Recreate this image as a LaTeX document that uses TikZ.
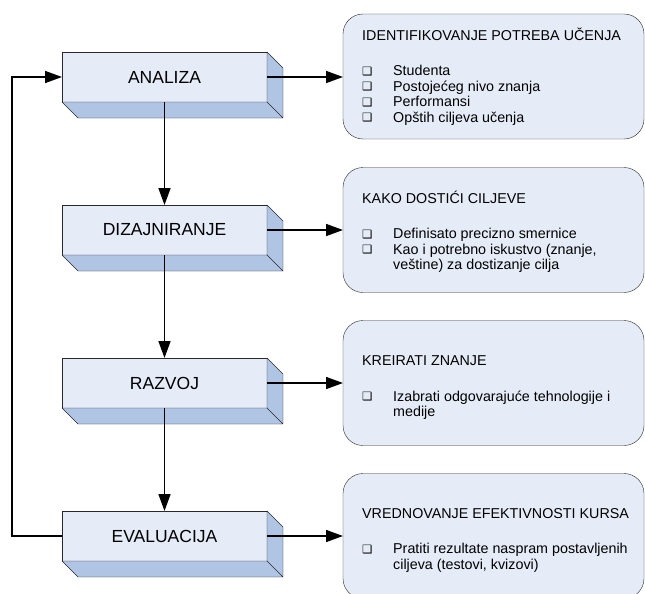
\documentclass[tikz,border=0pt]{standalone}
\usepackage{fontspec}
\setmainfont{Liberation Sans}
\newfontfamily\symfont{DejaVu Sans}
\usetikzlibrary{arrows.meta}
\definecolor{faceblue}{RGB}{230,236,247}
\definecolor{sideblue}{RGB}{176,196,228}
\definecolor{rimgray}{RGB}{40,40,40}
\newcommand{\sqbul}{\makebox[31pt][l]{\raisebox{0.5pt}{\symfont\fontsize{11.5}{11.5}\selectfont ❑}}}

\begin{document}
\begin{tikzpicture}[x=1pt,y=-1pt]
        \tikzstyle{block}=[draw=rimgray,fill=faceblue,minimum width=205pt,minimum height=50pt,inner sep=0pt,outer sep=0pt,font=\fontsize{17.5}{20}\selectfont]
        \tikzstyle{side}=[draw=rimgray,fill=sideblue,line join=round]
        \tikzstyle{note}=[draw=rimgray,fill=faceblue,rounded corners=20pt,minimum width=301pt,minimum height=125pt,inner sep=0pt,outer sep=0pt]
        \tikzstyle{notetext}=[anchor=west,inner sep=0pt,align=left,font=\fontsize{14.3}{15.5}\selectfont]
        \tikzstyle{edge}=[draw,line width=1.6pt,-{Triangle[length=17pt,width=12pt]}]
        \useasboundingbox (0,0) rectangle (645,594);

         \node [block] (ana) at (164.5,77) {ANALIZA};
         \node [block] (diz) at (164.5,230) {DIZAJNIRANJE};
         \node [block] (raz) at (164.5,383) {RAZVOJ};
         \node [block] (eva) at (164.5,536) {EVALUACIJA};

         % depth of the blocks
         \path[side] (ana.south west) -- ++(16,16) -- ([shift={(16,16)}]ana.south east) -- ([shift={(16,16)}]ana.north east) -- (ana.north east) -- (ana.south east) -- cycle (ana.south east) -- ++(16,16);
         \path[side] (diz.south west) -- ++(16,16) -- ([shift={(16,16)}]diz.south east) -- ([shift={(16,16)}]diz.north east) -- (diz.north east) -- (diz.south east) -- cycle (diz.south east) -- ++(16,16);
         \path[side] (raz.south west) -- ++(16,16) -- ([shift={(16,16)}]raz.south east) -- ([shift={(16,16)}]raz.north east) -- (raz.north east) -- (raz.south east) -- cycle (raz.south east) -- ++(16,16);
         \path[side] (eva.south west) -- ++(16,16) -- ([shift={(16,16)}]eva.south east) -- ([shift={(16,16)}]eva.north east) -- (eva.north east) -- (eva.south east) -- cycle (eva.south east) -- ++(16,16);

         \node [note] (n1) at (493.5,76.5) {};
         \node [note] (n2) at (493.5,230) {};
         \node [note] (n3) at (493.5,383) {};
         \node [note] (n4) at (493.5,536) {};

         \node [notetext] (t1) at ([xshift=19pt]n1.west) {IDENTIFIKOVANJE POTREBA UČENJA\\[20pt]
            \sqbul Studenta\\
            \sqbul Postojećeg nivo znanja\\
            \sqbul Performansi\\
            \sqbul Opštih ciljeva učenja};
         \node [notetext] (t2) at ([xshift=19pt,yshift=-2pt]n2.west) {KAKO DOSTIĆI CILJEVE\\[20pt]
            \sqbul Definisato precizno smernice\\
            \sqbul Kao i potrebno iskustvo (znanje,\\
            \hspace*{31pt}veštine) za dostizanje cilja};
         \node [notetext] (t3) at ([xshift=19pt,yshift=-5pt]n3.west) {KREIRATI ZNANJE\\[20pt]
            \sqbul Izabrati odgovarajuće tehnologije i\\
            \hspace*{31pt}medije};
         \node [notetext] (t4) at ([xshift=19pt,yshift=-4pt]n4.west) {VREDNOVANJE EFEKTIVNOSTI KURSA\\[20pt]
            \sqbul Pratiti rezultate naspram postavljenih\\
            \hspace*{31pt}ciljeva (testovi, kvizovi)};

         \path[edge] (ana.south) to (diz.north);
         \path[edge] (diz.south) to (raz.north);
         \path[edge] (raz.south) to (eva.north);

         \path[edge] (ana.east) to (ana.east -| n1.west);
         \path[edge] (diz.east) to (diz.east -| n2.west);
         \path[edge] (raz.east) to (raz.east -| n3.west);
         \path[edge] (eva.east) to (eva.east -| n4.west);

         \path[edge] (eva.west) -- ++(-50,0) |- (ana.west);
\end{tikzpicture}
\end{document}
